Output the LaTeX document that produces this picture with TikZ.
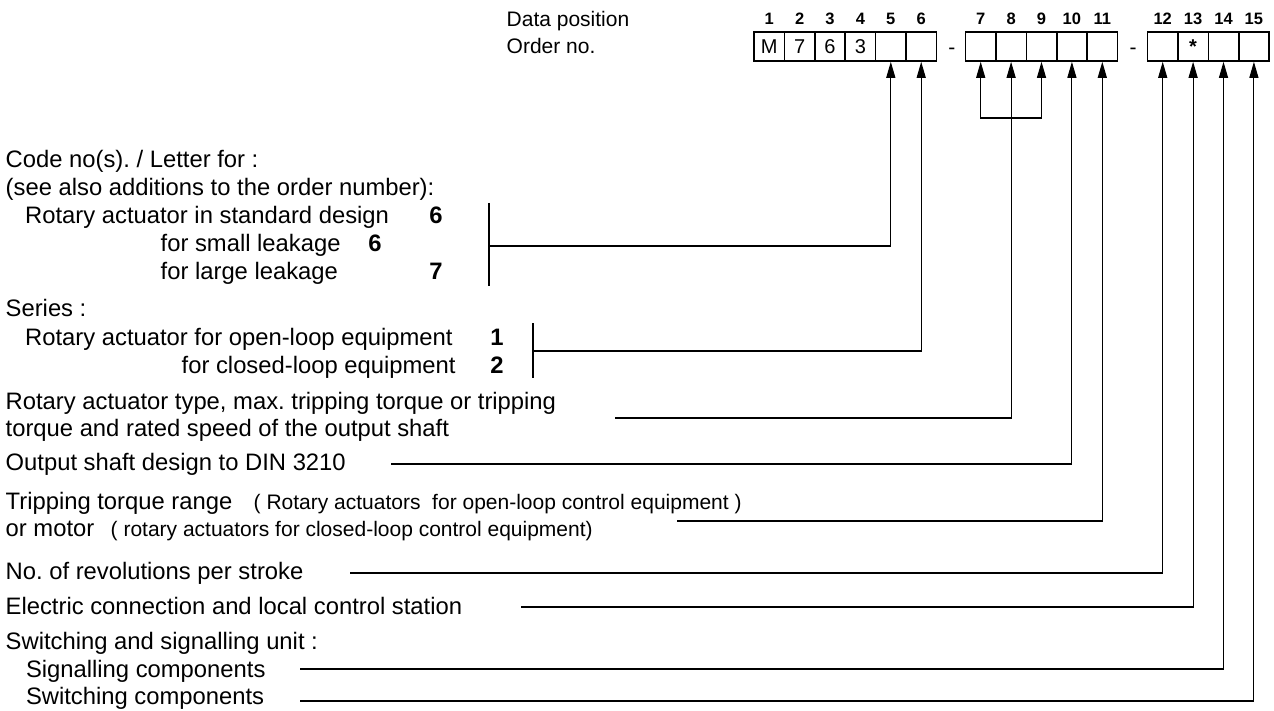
\documentclass[tikz,border=0pt]{standalone}
\usepackage{fontspec}
\setmainfont{Liberation Sans}
\usetikzlibrary{arrows.meta}
\frenchspacing
\begin{document}
\frenchspacing
\begin{tikzpicture}[x=1pt,y=-1pt,
  txt/.style={anchor=base west,inner sep=0pt,font=\fontsize{23.8pt}{28pt}\selectfont\frenchspacing},
  sml/.style={anchor=base west,inner sep=0pt,font=\fontsize{21pt}{25pt}\selectfont\frenchspacing},
  bnum/.style={anchor=base,inner sep=0pt,font=\fontsize{23.8pt}{28pt}\selectfont\bfseries},
  posnum/.style={anchor=base,inner sep=0pt,font=\fontsize{16.5pt}{20pt}\selectfont\bfseries},
  cell/.style={draw,line width=1.6pt,minimum width=30.4pt,minimum height=29pt,inner sep=0pt,font=\fontsize{20pt}{24pt}\selectfont},
  conn/.style={line width=1.1pt},
  bar/.style={line width=1.4pt},
  arr/.style={-{Triangle[length=16pt,width=9pt]}},
  arrs/.style={{Triangle[length=16pt,width=9pt]}-{Triangle[length=16pt,width=9pt]}},
]
\useasboundingbox (0,0) rectangle (1274,711);

% header labels
\node[sml] (dp) at (506.5,26.5) {Data position};
\node[sml] (on) at (506.5,53.5) {Order no.};

% cells
\node[cell] (c1) at (769.2,46.5) {M};
\node[cell] (c2) at (799.6,46.5) {7};
\node[cell] (c3) at (830.0,46.5) {6};
\node[cell] (c4) at (860.4,46.5) {3};
\node[cell] (c5) at (890.8,46.5) {};
\node[cell] (c6) at (921.2,46.5) {};
\node[sml,anchor=center] (d1) at (951.8,51) {-};
\node[cell] (c7) at (980.7,46.5) {};
\node[cell] (c8) at (1011.1,46.5) {};
\node[cell] (c9) at (1041.5,46.5) {};
\node[cell] (c10) at (1071.9,46.5) {};
\node[cell] (c11) at (1102.3,46.5) {};
\node[sml,anchor=center] (d2) at (1133,51) {-};
\node[cell] (c12) at (1162.7,46.5) {};
\node[cell] (c13) at (1193.1,46.5) {\bfseries *};
\node[cell] (c14) at (1223.5,46.5) {};
\node[cell] (c15) at (1253.9,46.5) {};

% position numbers
\coordinate (numY) at (0,25);
\foreach \i in {1,...,15} {\node[posnum] (p\i) at (c\i |- numY) {\i};}

% left texts
\node[txt] (t1) at (5.5,167.5) {Code no(s). / Letter for :};
\node[txt] (t2) at (5.5,195.5) {(see also additions to the order number):};
\node[txt] (t3) at (25,223.5) {Rotary actuator in standard design};
\node[bnum] (n3) at (436,223.5) {6};
\node[txt] (t4) at (160.5,251.5) {for small leakage};
\node[bnum] (n4) at (375,251.5) {6};
\node[txt] (t5) at (160.5,279.5) {for large leakage};
\node[bnum] (n5) at (436,279.5) {7};
\node[txt] (t6) at (5.5,316.5) {Series :};
\node[txt] (t7) at (25,345.5) {Rotary actuator for open-loop equipment};
\node[bnum] (n7) at (497,345.5) {1};
\node[txt] (t8) at (181.5,373.5) {for closed-loop equipment};
\node[bnum] (n8) at (497,373.5) {2};
\node[txt] (t9) at (5.5,409.5) {Rotary actuator type, max. tripping torque or tripping};
\node[txt] (t10) at (5.5,436.5) {torque and rated speed of the output shaft};
\node[txt] (t11) at (5.5,470.5) {Output shaft design to DIN 3210};
\node[txt] (t12) at (5.5,509.5) {Tripping torque range};
\node[sml] (t12b) at (253.5,509.5) {( Rotary actuators\ \ for open-loop control equipment )};
\node[txt] (t13) at (5.5,536) {or motor};
\node[sml] (t13b) at (110.5,536) {( rotary actuators for closed-loop control equipment)};
\node[txt] (t14) at (5.5,579.5) {No. of revolutions per stroke};
\node[txt] (t15) at (5.5,614.5) {Electric connection and local control station};
\node[txt] (t16) at (5.5,649.5) {Switching and signalling unit :};
\node[txt] (t17) at (25.8,677.5) {Signalling components};
\node[txt] (t18) at (25.8,704.5) {Switching components};

% connector coordinates
\coordinate (b1t) at (489,203);
\coordinate (b1b) at (489,286);
\coordinate (b1m) at (489,246);
\coordinate (b2t) at (533,323);
\coordinate (b2b) at (533,378);
\coordinate (b2m) at (533,351);
\coordinate (brY) at (0,118);
\coordinate (l8) at (615,418);
\coordinate (l10) at (391,464);
\coordinate (l11) at (677,521);
\coordinate (l12) at (350,573);
\coordinate (l13) at (521,607);
\coordinate (l14) at (300,669);
\coordinate (l15) at (300,701);

% bars
\draw[bar] (b1t) -- (b1b);
\draw[bar] (b2t) -- (b2b);

% connectors
\draw[conn,arr] (b1m) -| (c5.south);
\draw[conn,arr] (b2m) -| (c6.south);
\draw[conn,arrs] (c7.south) |- (c9.south |- brY) -- (c9.south);
\draw[conn,arr] (l8) -| (c8.south);
\draw[conn,arr] (l10) -| (c10.south);
\draw[conn,arr] (l11) -| (c11.south);
\draw[conn,arr] (l12) -| (c12.south);
\draw[conn,arr] (l13) -| (c13.south);
\draw[conn,arr] (l14) -| (c14.south);
\draw[conn,arr] (l15) -| (c15.south);
\end{tikzpicture}
\end{document}
